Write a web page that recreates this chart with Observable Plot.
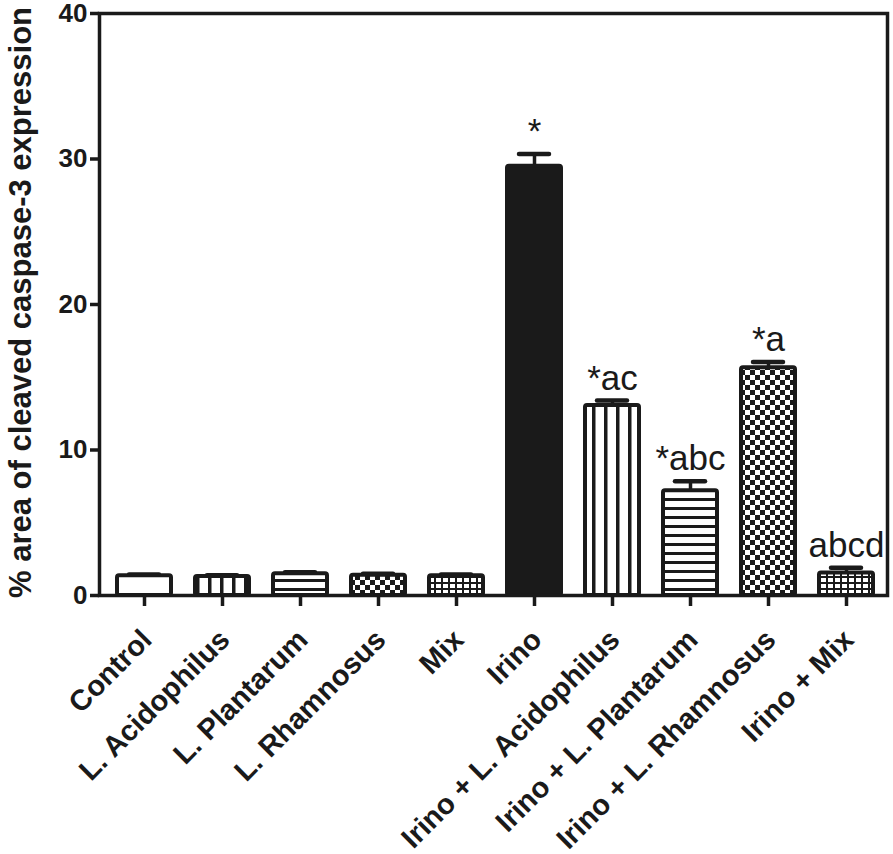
<!DOCTYPE html>
<html><head><meta charset="utf-8">
<script src="https://cdn.jsdelivr.net/npm/d3@7"></script>
<script src="https://cdn.jsdelivr.net/npm/@observablehq/plot@0.6"></script>
<style>body{margin:0;background:#fff}</style>
</head><body><div id="chart"></div>
<script>
// ---- data ----
const groups = ["Control","L. Acidophilus","L. Plantarum","L. Rhamnosus","Mix","Irino","Irino + L. Acidophilus","Irino + L. Plantarum","Irino + L. Rhamnosus","Irino + Mix"];
const means = [1.35, 1.3, 1.5, 1.4, 1.35, 29.5, 13.05, 7.2, 15.65, 1.55];
const sems  = [0.1, 0.1, 0.1, 0.1, 0.1, 0.85, 0.35, 0.65, 0.4, 0.35];
const sigLabels = ["","","","","","*","*ac","*abc","*a","abcd"];
const yTicks = [0, 10, 20, 30, 40];
const yLabel = "% area of cleaved caspase-3 expression";

// ---- styles ----
const INK = "#1a1a1a";
const fillStyles = ["white","url(#p-vl)","url(#p-hl)","url(#p-ck)","url(#p-gr)",INK,"url(#p-vl)","url(#p-hl)","url(#p-ck)","url(#p-gr)"];

const table = groups.map((g, i) => ({group: g, mean: means[i], sem: sems[i], sig: sigLabels[i], fill: fillStyles[i]}));

const chart = Plot.plot({
  width: 893, height: 854,
  marginLeft: 99, marginRight: 6, marginTop: 13, marginBottom: 259,
  style: {fontFamily: "'Liberation Sans', Arial, sans-serif", color: INK, background: "white", overflow: "visible"},
  x: {domain: groups, range: [104, 886], paddingInner: 0.31, paddingOuter: 0.155, label: null},
  y: {domain: [0, 40], label: null},
  color: {type: "identity"},
  marks: [
    Plot.ruleX(table, {x: "group", y1: "mean", y2: d => d.mean + d.sem, stroke: INK, strokeWidth: 3.5}),
    Plot.tickY(table, {x: "group", y: d => d.mean + d.sem, stroke: INK, strokeWidth: 4.5, strokeLinecap: "round", insetLeft: 12, insetRight: 12}),
    Plot.barY(table, {x: "group", y: "mean", fill: "fill", stroke: INK, strokeWidth: 4, rx: 2}),
    Plot.text(table, {x: "group", y: d => d.mean + d.sem, text: "sig", lineAnchor: "bottom", dy: -11, fontSize: 35, fill: INK}),
    Plot.frame({stroke: INK, strokeWidth: 3.5}),
    Plot.axisY({ticks: yTicks, tickSize: 9, tickPadding: 3, fontSize: 26, fontWeight: "bold", strokeWidth: 3.5, label: null}),
    Plot.axisX({tickSize: 11, strokeWidth: 3.5, tickFormat: () => "", label: null}),
    Plot.text(groups, {x: d => d, y: 0, text: d => d, rotate: -45, textAnchor: "end", lineAnchor: "bottom", dx: 9, dy: 46, fontSize: 29, fontWeight: "bold", fill: INK}),
    Plot.text([yLabel], {frameAnchor: "left", text: d => d, rotate: -90, textAnchor: "middle", dx: -78, dy: -2, fontSize: 31, fontWeight: "bold", fill: INK})
  ]
});

// patterns
const ns = "http://www.w3.org/2000/svg";
const defs = document.createElementNS(ns, "defs");
defs.innerHTML = `
<pattern id="p-vl" patternUnits="userSpaceOnUse" width="12" height="10">
  <rect width="12" height="10" fill="white"/><rect x="4" y="0" width="3.5" height="10" fill="${INK}"/>
</pattern>
<pattern id="p-hl" patternUnits="userSpaceOnUse" width="10" height="9">
  <rect width="10" height="9" fill="white"/><rect x="0" y="3" width="10" height="3" fill="${INK}"/>
</pattern>
<pattern id="p-ck" patternUnits="userSpaceOnUse" width="10" height="10">
  <rect width="10" height="10" fill="white"/><rect x="0" y="0" width="5" height="5" fill="${INK}"/><rect x="5" y="5" width="5" height="5" fill="${INK}"/>
</pattern>
<pattern id="p-gr" patternUnits="userSpaceOnUse" width="7" height="6">
  <rect width="7" height="6" fill="white"/><rect x="0" y="0" width="2" height="6" fill="${INK}"/><rect x="0" y="0" width="7" height="2" fill="${INK}"/>
</pattern>`;
chart.insertBefore(defs, chart.firstChild);
document.getElementById("chart").appendChild(chart);
</script>
</body></html>
